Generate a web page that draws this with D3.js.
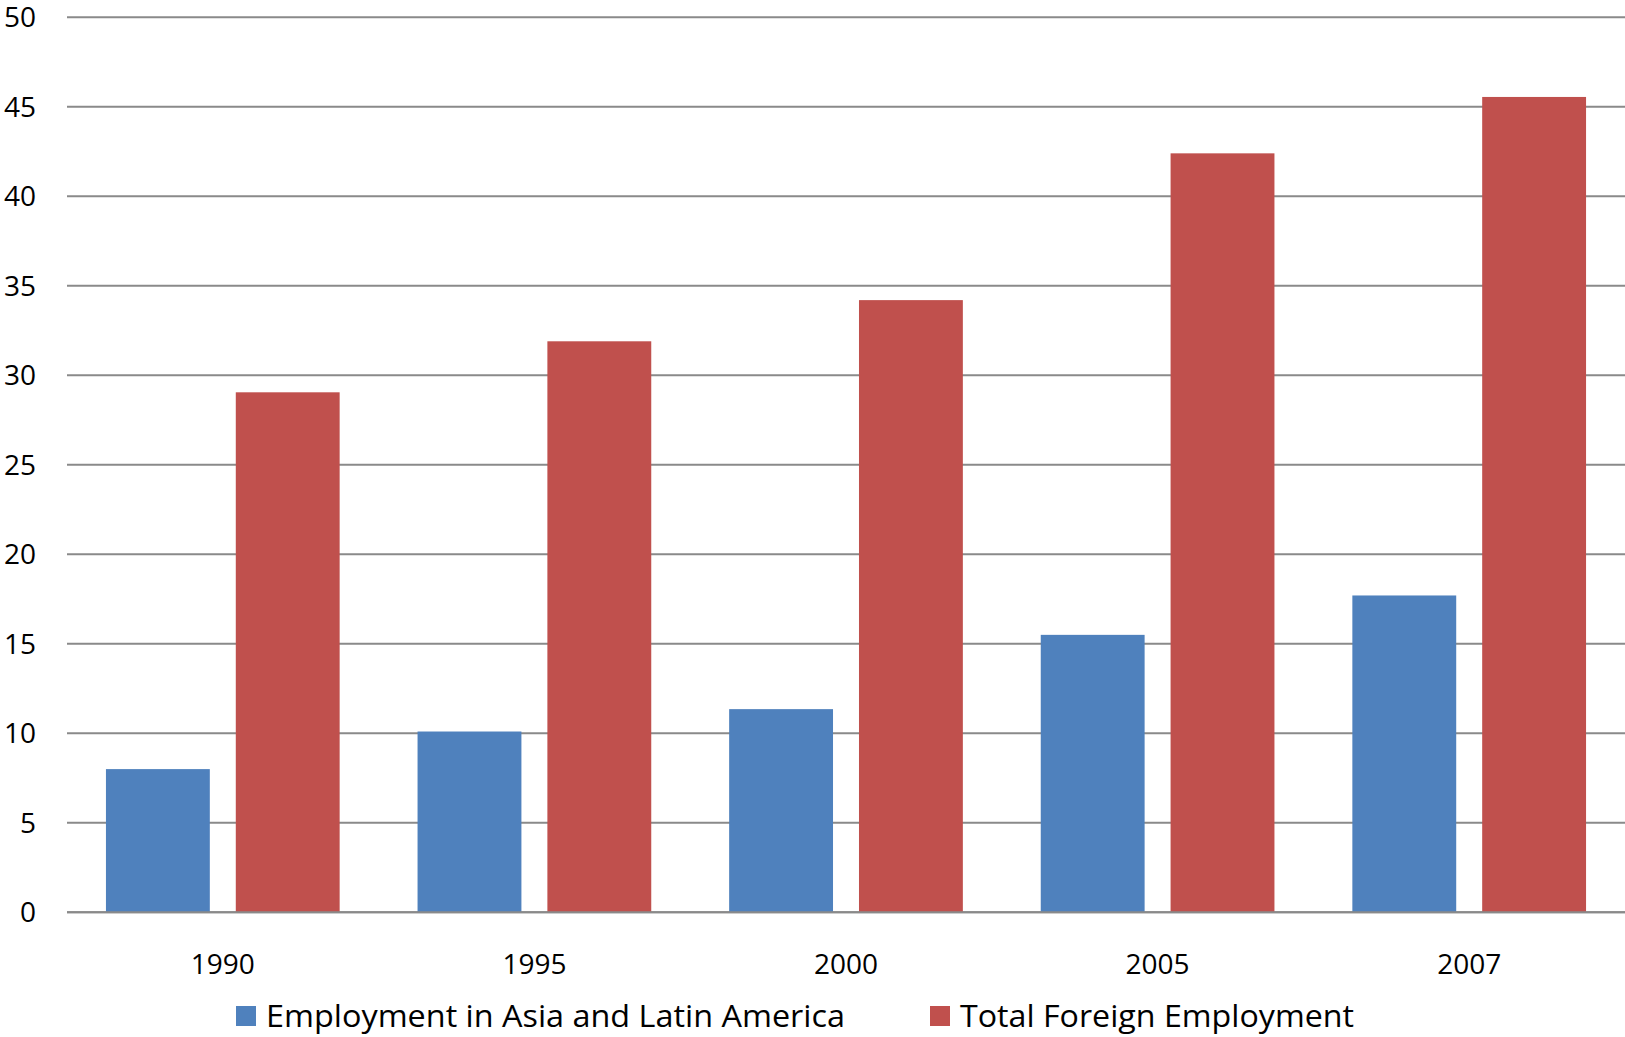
<!DOCTYPE html>
<html>
<head>
<meta charset="utf-8">
<script src="https://cdn.jsdelivr.net/npm/d3@7"></script>
<style>
  body { margin: 0; background: #fff; }
  text { font-family: "Open Sans", sans-serif; fill: #000; }
</style>
</head>
<body>
<div id="chart"></div>
<script>
var years = ["1990", "1995", "2000", "2005", "2007"];
var seriesNames = ["Employment in Asia and Latin America", "Total Foreign Employment"];
var asiaLatam = [8.0, 10.1, 11.35, 15.5, 17.7];
var totalForeign = [29.05, 31.9, 34.2, 42.4, 45.55];
var yTicks = [0, 5, 10, 15, 20, 25, 30, 35, 40, 45, 50];
var colors = ["#4f81bd", "#c0504d"];

var W = 1625, H = 1037,
    margin = {top: 17.3, right: 0, bottom: 124.7, left: 67},
    plotW = W - margin.left - margin.right,
    plotH = H - margin.top - margin.bottom;

var rows = years.map(function (y, i) {
  return {year: y, values: [asiaLatam[i], totalForeign[i]]};
});

var svg = d3.select("#chart").append("svg")
    .attr("width", W)
    .attr("height", H);

var g = svg.append("g")
    .attr("transform", "translate(" + margin.left + "," + margin.top + ")");

var x0 = d3.scaleBand()
    .domain(years)
    .range([0, plotW])
    .padding(0);

var x1 = d3.scaleBand()
    .domain([0, 1])
    .range([0, x0.bandwidth()])
    .paddingInner(0.2)
    .paddingOuter(0.3);

var y = d3.scaleLinear()
    .domain([0, 50])
    .range([plotH, 0]);

// gridlines
g.selectAll("line.grid")
  .data(yTicks)
  .enter().append("line")
    .attr("class", "grid")
    .attr("x1", 0)
    .attr("x2", plotW)
    .attr("y1", function (d) { return y(d); })
    .attr("y2", function (d) { return y(d); })
    .style("stroke", "#8a8a8a")
    .style("stroke-width", 2);

// y labels
g.selectAll("text.ylab")
  .data(yTicks)
  .enter().append("text")
    .attr("class", "ylab")
    .attr("x", 36 - margin.left)
    .attr("y", function (d) { return y(d); })
    .attr("dy", "0.36em")
    .attr("text-anchor", "end")
    .style("font-size", "28px")
    .text(function (d) { return d; });

// bars
var groups = g.selectAll("g.year")
  .data(rows)
  .enter().append("g")
    .attr("class", "year")
    .attr("transform", function (d) { return "translate(" + x0(d.year) + ",0)"; });

groups.selectAll("rect")
  .data(function (d) { return d.values; })
  .enter().append("rect")
    .attr("x", function (d, i) { return x1(i); })
    .attr("width", x1.bandwidth())
    .attr("y", function (d) { return y(d); })
    .attr("height", function (d) { return y(0) - y(d); })
    .attr("fill", function (d, i) { return colors[i]; });

// baseline
g.append("line")
    .attr("x1", 0)
    .attr("x2", plotW)
    .attr("y1", y(0))
    .attr("y2", y(0))
    .style("stroke", "#8a8a8a")
    .style("stroke-width", 2);

// x labels
g.selectAll("text.xlab")
  .data(years)
  .enter().append("text")
    .attr("class", "xlab")
    .attr("x", function (d) { return x0(d) + x0.bandwidth() / 2; })
    .attr("y", plotH + 62)
    .attr("text-anchor", "middle")
    .style("font-size", "28px")
    .text(function (d) { return d; });

// legend
var legendX = [236, 930],
    legendLen = [579, 394];
var legend = svg.selectAll("g.legend")
  .data(seriesNames)
  .enter().append("g")
    .attr("class", "legend")
    .attr("transform", function (d, i) { return "translate(" + legendX[i] + ",1006)"; });

legend.append("rect")
    .attr("width", 20)
    .attr("height", 20)
    .attr("fill", function (d, i) { return colors[i]; });

legend.append("text")
    .attr("x", 30)
    .attr("y", 21)
    .attr("textLength", function (d, i) { return legendLen[i]; })
    .attr("lengthAdjust", "spacingAndGlyphs")
    .style("font-size", "31px")
    .text(function (d) { return d; });
</script>
</body>
</html>
